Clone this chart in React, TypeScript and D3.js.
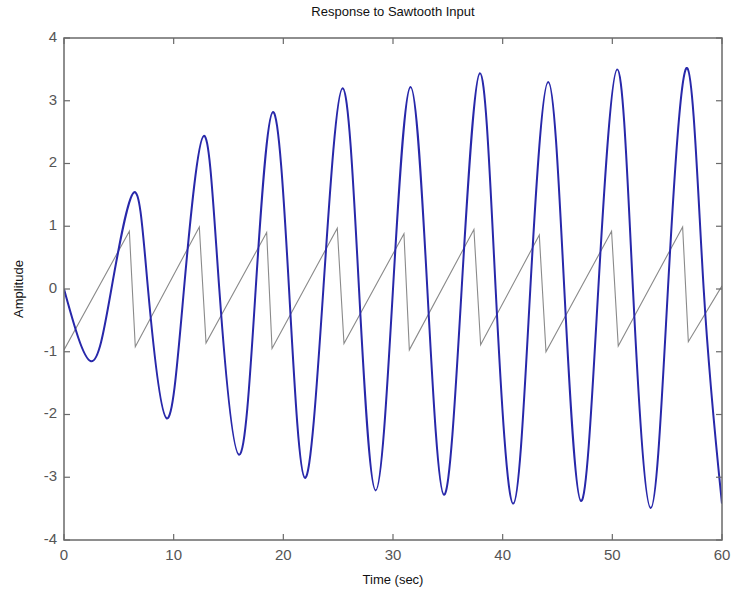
import React from "react";
import * as d3 from "d3";

// Sawtooth input (vertices of the sampled polyline)
const sawT = [0, 5.96, 6.5, 12.34, 12.95, 18.48, 18.97, 24.92, 25.53, 31.0, 31.49, 37.38, 37.99, 43.34, 43.95, 49.93, 50.54, 56.41, 56.93, 60];
const sawV = [-0.97, 0.92, -0.92, 0.99, -0.86, 0.9, -0.95, 0.97, -0.87, 0.88, -0.97, 0.95, -0.89, 0.86, -1.0, 0.92, -0.91, 0.99, -0.84, 0.05];

// Response (extrema and zero crossings)
const respT = [0, 2.46, 4.32, 6.38, 7.66, 9.36, 10.94, 12.75, 14.16, 15.96, 17.48, 19.05, 20.52, 21.97, 23.65, 25.4, 26.9, 28.42, 30.0, 31.6, 33.13, 34.65, 36.26, 37.93, 39.36, 40.97, 42.52, 44.16, 45.62, 47.15, 48.72, 50.45, 51.88, 53.5, 55.07, 56.83, 58.33, 60];
const respV = [0, -1.15, 0, 1.54, 0, -2.06, 0, 2.44, 0, -2.64, 0, 2.82, 0, -3.01, 0, 3.2, 0, -3.21, 0, 3.22, 0, -3.28, 0, 3.44, 0, -3.42, 0, 3.3, 0, -3.38, 0, 3.5, 0, -3.49, 0, 3.52, 0, -3.42];

const xTicks = [0, 10, 20, 30, 40, 50, 60];
const yTicks = [-4, -3, -2, -1, 0, 1, 2, 3, 4];

const title = "Response to Sawtooth Input";
const xLabel = "Time (sec)";
const yLabel = "Amplitude";

export default function App() {
  const W = 732, H = 599;
  const L = 64, R = 722, T = 38, B = 540;
  const x = d3.scaleLinear().domain([0, 60]).range([L, R]);
  const y = d3.scaleLinear().domain([-4, 4]).range([B, T]);
  const font = "'Liberation Sans', Arial, Helvetica, sans-serif";
  const axisColor = "#6a6a6a";
  const tickLen = 6;

  const sawLine = d3.line<number>().x((_, i) => x(sawT[i])).y((d) => y(d));
  const respLine = d3
    .line<number>()
    .x((_, i) => x(respT[i]))
    .y((d) => y(d))
    .curve(d3.curveNatural);

  return (
    <svg width={W} height={H} style={{ position: "absolute", left: 0, top: 0, background: "#fff" }}>
      <rect x={0} y={0} width={W} height={H} fill="#fff" />
      <defs>
        <clipPath id="plotclip">
          <rect x={L} y={T} width={R - L} height={B - T} />
        </clipPath>
      </defs>
      <g clipPath="url(#plotclip)">
        <path d={sawLine(sawV) || ""} fill="none" stroke="#8a8a8a" strokeWidth={1.1} />
        <path d={respLine(respV) || ""} fill="none" stroke="#2828aa" strokeWidth={2} strokeLinejoin="round" />
      </g>
      <rect x={L} y={T} width={R - L} height={B - T} fill="none" stroke={axisColor} strokeWidth={1.5} />
      {xTicks.map((t) => (
        <g key={"xt" + t}>
          <line x1={x(t)} x2={x(t)} y1={B} y2={B - tickLen} stroke={axisColor} strokeWidth={1.2} />
          <line x1={x(t)} x2={x(t)} y1={T} y2={T + tickLen} stroke={axisColor} strokeWidth={1.2} />
          <text x={x(t)} y={B + 16} textAnchor="middle" dominantBaseline="middle" fontFamily={font} fontSize={15} fill="#555">
            {t}
          </text>
        </g>
      ))}
      {yTicks.map((v) => (
        <g key={"yt" + v}>
          <line x1={L} x2={L + tickLen} y1={y(v)} y2={y(v)} stroke={axisColor} strokeWidth={1.2} />
          <line x1={R} x2={R - tickLen} y1={y(v)} y2={y(v)} stroke={axisColor} strokeWidth={1.2} />
          <text x={L - 7} y={y(v)} textAnchor="end" dominantBaseline="middle" fontFamily={font} fontSize={15} fill="#555">
            {v}
          </text>
        </g>
      ))}
      <text x={(L + R) / 2} y={13} textAnchor="middle" dominantBaseline="middle" fontFamily={font} fontSize={13} fill="#111">
        {title}
      </text>
      <text x={(L + R) / 2} y={581} textAnchor="middle" dominantBaseline="middle" fontFamily={font} fontSize={13} fill="#111">
        {xLabel}
      </text>
      <text
        transform={`translate(20, ${(T + B) / 2}) rotate(-90)`}
        textAnchor="middle"
        dominantBaseline="middle"
        fontFamily={font}
        fontSize={13}
        fill="#111"
      >
        {yLabel}
      </text>
    </svg>
  );
}
